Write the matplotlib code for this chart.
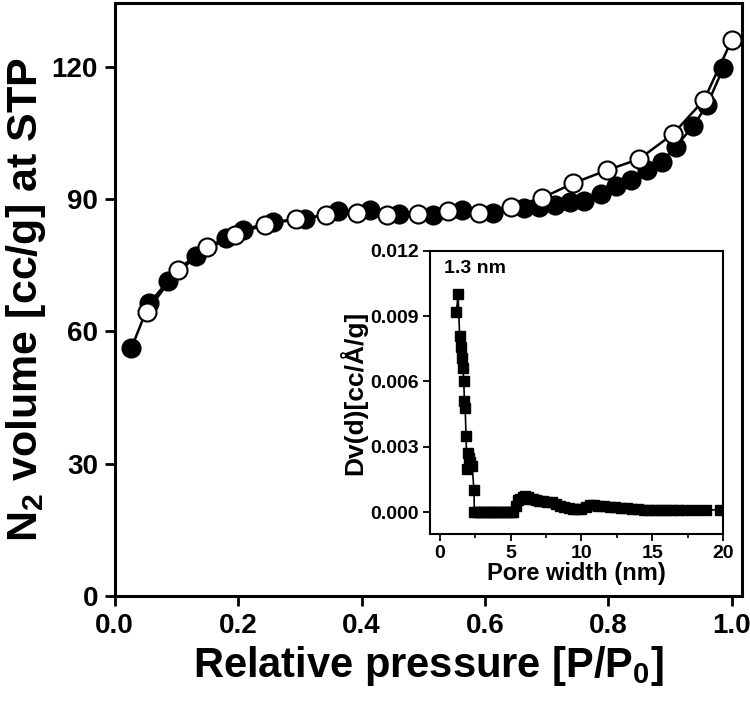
import matplotlib
matplotlib.use("Agg")
import matplotlib.pyplot as plt
from matplotlib.ticker import MultipleLocator

plt.rcParams['font.family'] = ['Liberation Sans', 'DejaVu Sans']
plt.rcParams['font.weight'] = 'bold'
plt.rcParams['axes.labelweight'] = 'bold'
plt.rcParams['mathtext.fontset'] = 'custom'
plt.rcParams['mathtext.rm'] = 'Liberation Sans:bold'
plt.rcParams['mathtext.bf'] = 'Liberation Sans:bold'
plt.rcParams['mathtext.default'] = 'rm'

# N2 isotherm - adsorption (filled)
ads_p = [0.027, 0.056, 0.086, 0.132, 0.181, 0.208, 0.256, 0.309, 0.362, 0.413,
         0.461, 0.515, 0.562, 0.613, 0.663, 0.687, 0.714, 0.738, 0.760, 0.788,
         0.812, 0.837, 0.862, 0.887, 0.909, 0.937, 0.960, 0.986]
ads_v = [56.2, 66.4, 71.3, 77.0, 81.1, 83.0, 84.9, 85.5, 87.2, 87.6,
         86.5, 86.4, 87.4, 86.8, 88.0, 88.3, 88.7, 89.3, 89.5, 91.2,
         93.0, 94.4, 96.5, 98.5, 101.9, 106.5, 111.4, 119.7]

# desorption (open)
des_p = [0.052, 0.102, 0.150, 0.195, 0.244, 0.293, 0.342, 0.392, 0.441, 0.492,
         0.540, 0.591, 0.642, 0.692, 0.743, 0.797, 0.850, 0.905, 0.955, 1.000]
des_v = [64.4, 74.0, 79.2, 81.9, 84.2, 85.4, 86.3, 86.8, 86.4, 86.6,
         87.2, 86.8, 88.3, 90.2, 93.6, 96.5, 99.1, 104.8, 112.5, 126.1]

# pore size distribution (inset)
pore_w = [1.18, 1.30, 1.41, 1.53, 1.60, 1.65, 1.70, 1.75, 1.80, 1.86,
          1.92, 1.98, 2.05, 2.15, 2.30, 2.42, 2.45, 2.60, 2.80, 3.00,
          3.20, 3.40, 3.60, 3.80, 4.00, 4.20, 4.40, 4.60, 4.80, 5.00,
          5.20, 5.40, 5.55, 5.70, 5.85, 6.00, 6.20, 6.40, 6.60, 6.80,
          7.00, 7.30, 7.60, 7.90, 8.20, 8.50, 8.80, 9.10, 9.40, 9.70,
          10.0, 10.3, 10.6, 10.9, 11.2, 11.6, 12.0, 12.4, 12.8, 13.2,
          13.6, 14.0, 14.4, 14.8, 15.2, 15.6, 16.0, 16.4, 16.8, 17.4,
          18.1, 18.8, 19.8]
dv = [0.0092, 0.0100, 0.0081, 0.0076, 0.0071, 0.0066, 0.0060, 0.0051, 0.0048, 0.0035,
      0.0020, 0.0027, 0.0025, 0.0023, 0.0021, 0.0010, 0.0000, 0.0000, 0.0000, 0.0000,
      0.0000, 0.0000, 0.0000, 0.0000, 0.0000, 0.0000, 0.0000, 0.0000, 0.0000, 0.0000,
      0.0000, 0.00030, 0.00055, 0.00062, 0.00070, 0.00074, 0.00070, 0.00062, 0.00058, 0.00055,
      0.00053, 0.00050, 0.00048, 0.00045, 0.00038, 0.00030, 0.00022, 0.00017, 0.00013, 0.00012,
      0.00015, 0.00025, 0.00032, 0.00032, 0.00030, 0.00027, 0.00025, 0.00023, 0.00020, 0.00018,
      0.00015, 0.00013, 0.00011, 0.00010, 0.00010, 0.00010, 0.00010, 0.00010, 0.00010, 0.00010,
      0.00010, 0.00010, 0.00010]

fig = plt.figure(figsize=(7.5, 7.06), dpi=100)
ax = fig.add_axes([0.153, 0.156, 0.836, 0.84])

ax.plot(ads_p, ads_v, '-o', color='black', lw=1.8, ms=13,
        mfc='black', mec='black', mew=1.5, zorder=3)
ax.plot(des_p, des_v, '-o', color='black', lw=1.8, ms=13,
        mfc='white', mec='black', mew=1.5, zorder=4)

ax.set_xlim(0, 1.016)
ax.set_ylim(0, 134.5)
ax.set_xticks([0.0, 0.2, 0.4, 0.6, 0.8, 1.0])
ax.set_xticklabels(['0.0', '0.2', '0.4', '0.6', '0.8', '1.0'])
ax.set_yticks([0, 30, 60, 90, 120])
ax.tick_params(direction='out', length=7, width=2, labelsize=20, pad=5)
for s in ax.spines.values():
    s.set_linewidth(2.2)
ax.set_xlabel('Relative pressure [P/P$_0$]', fontsize=30, labelpad=4)
ax.set_ylabel('N$_2$ volume [cc/g] at STP', fontsize=31, labelpad=3)

# inset
axi = fig.add_axes([0.573, 0.2436, 0.391, 0.401])
axi.plot(pore_w, dv, '-s', color='black', lw=1.2, ms=6.5, mfc='black', mec='black')
axi.set_xlim(-0.7, 20)
axi.set_ylim(-0.00101, 0.012)
axi.set_xticks([0, 5, 10, 15, 20])
axi.xaxis.set_minor_locator(MultipleLocator(2.5))
axi.set_yticks([0.0, 0.003, 0.006, 0.009, 0.012])
axi.set_yticklabels(['0.000', '0.003', '0.006', '0.009', '0.012'])
axi.tick_params(direction='out', length=5, width=1.3, labelsize=14, pad=3)
axi.tick_params(which='minor', direction='out', length=3, width=1.2)
for s in axi.spines.values():
    s.set_linewidth(1.5)
axi.set_xlabel('Pore width (nm)', fontsize=17, labelpad=0)
axi.set_ylabel('Dv(d)[cc/Å/g]', fontsize=19, labelpad=2)
axi.text(0.3, 0.0112, '1.3 nm', fontsize=14, ha='left', va='center')

fig.savefig('out.png', dpi=100)
